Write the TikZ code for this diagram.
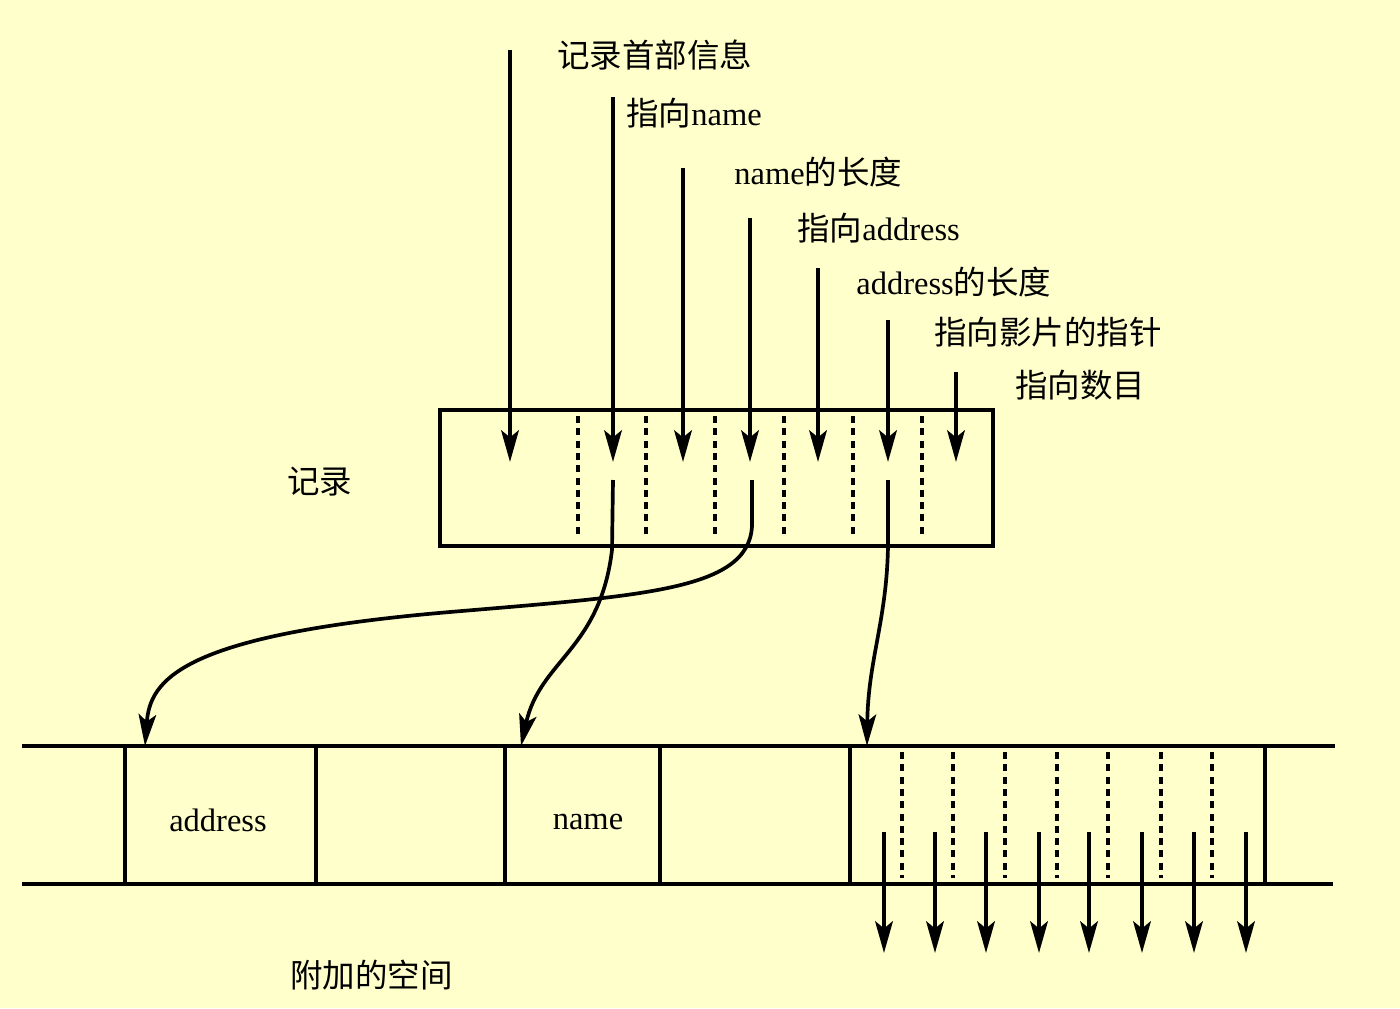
\documentclass[tikz,border=0pt]{standalone}
\usepackage{fontspec}
\setmainfont{Liberation Serif}
\newfontfamily\cjk{Noto Sans CJK SC}
\usetikzlibrary{arrows.meta}
\definecolor{bg}{HTML}{FFFFCC}
\begin{document}
\begin{tikzpicture}[x=0.02cm,y=-0.02cm,
  boxline/.style={line width=2.1pt},
  ptr/.style={line width=2.4pt,-{Stealth[length=18pt,width=10pt,inset=4pt]}},
  curveptr/.style={line width=2.1pt,-{Stealth[length=18pt,width=10pt,inset=4pt]}},
  slotline/.style={line width=2pt,dash pattern=on 4pt off 3pt},
  lbl/.style={anchor=west,inner sep=0pt,font=\fontsize{18.5}{20}\selectfont},
  celltext/.style={inner sep=0pt,font=\fontsize{18.5}{20}\selectfont}]
\fill[bg] (0,0) rectangle (1400,1008);
\useasboundingbox (0,0) rectangle (1400,1008);

% record box
\node[draw,boxline,minimum width=11.06cm,minimum height=2.72cm,anchor=north west,inner sep=0pt] (rec) at (438,408) {};
\foreach \x in {578,646,715,784,853,922} \draw[slotline] (\x,416) -- (\x,536);

% labels
\node[lbl] (l1) at (557,55) {{\cjk 记录首部信息}};
\node[lbl] (l2) at (626,113) {{\cjk 指向}name};
\node[lbl] (l3) at (734,172) {name{\cjk 的长度}};
\node[lbl] (l4) at (797,228) {{\cjk 指向}address};
\node[lbl] (l5) at (856,282) {address{\cjk 的长度}};
\node[lbl] (l6) at (934,332) {{\cjk 指向影片的指针}};
\node[lbl] (l7) at (1015,385) {{\cjk 指向数目}};
\node[lbl] (rl) at (287,482) {{\cjk 记录}};
\node[lbl] (el) at (290,975) {{\cjk 附加的空间}};

% incoming arrows
\coordinate (s1) at (510,50);  \coordinate (t1) at (510,462);
\coordinate (s2) at (613,97);  \coordinate (t2) at (613,462);
\coordinate (s3) at (683,168); \coordinate (t3) at (683,462);
\coordinate (s4) at (750,218); \coordinate (t4) at (750,462);
\coordinate (s5) at (818,268); \coordinate (t5) at (818,462);
\coordinate (s6) at (888,320); \coordinate (t6) at (888,462);
\coordinate (s7) at (956,372); \coordinate (t7) at (956,462);
\foreach \i in {1,...,7} \draw[ptr] (s\i) -- (t\i);

% bottom strip
\coordinate (L1) at (22,746);  \coordinate (R1) at (1335,746);
\coordinate (L2) at (22,884);  \coordinate (R2) at (1333,884);
\draw[boxline] (L1) -- (R1);
\draw[boxline] (L2) -- (R2);
\foreach \x in {125,316,505,660,850,1265} \draw[boxline] (\x,746) -- (\x,884);
\foreach \x in {902,953,1005,1057,1108,1161,1212} \draw[slotline] (\x,752) -- (\x,878);
\node[celltext] (addr) at (218,820) {address};
\node[celltext] (nm) at (588,822) {name};

% pointers from record to extra space
\coordinate (p2) at (613,480); \coordinate (p4) at (752,480); \coordinate (p6) at (888,480);
\coordinate (nameTop) at (521,746);
\coordinate (addrTop) at (145,746);
\coordinate (slotTop) at (867,746);
\draw[curveptr] (p2) -- (612,550) .. controls (600,650) and (540,660) .. (nameTop);
\draw[curveptr] (p4) -- (752,520) .. controls (755,590) and (650,595) .. (450,612) .. controls (180,635) and (150,680) .. (addrTop);
\draw[curveptr] (p6) -- (888,545) .. controls (887,620) and (868,660) .. (slotTop);

% outgoing arrows
\foreach \x in {884,935,986,1039,1089,1142,1194,1246} \draw[ptr] (\x,832) -- (\x,953);
\end{tikzpicture}
\end{document}
